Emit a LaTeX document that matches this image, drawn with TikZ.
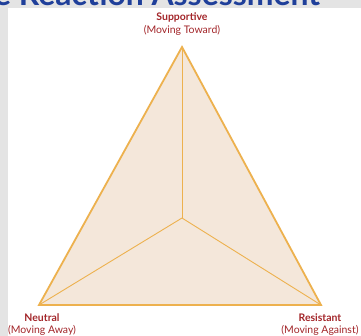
\documentclass[tikz,border=0pt]{standalone}
\usepackage{fontspec}
\setmainfont{Lato}
\usetikzlibrary{positioning}

\definecolor{slidegray}{HTML}{E4E4E4}
\definecolor{titleblue}{HTML}{1F3F9A}
\definecolor{edgeorange}{HTML}{EDB14E}
\definecolor{facebeige}{HTML}{F4E7DA}
\definecolor{labelred}{HTML}{A3262A}

\tikzset{
  reaction/.style={font=\bfseries\fontsize{10.5}{12}\selectfont, text=labelred, inner sep=0pt},
  movement/.style={font=\fontsize{10.5}{12}\selectfont, text=labelred, inner sep=0pt},
  outer edge/.style={draw=edgeorange, line width=1.8bp, line join=miter, fill=facebeige},
  inner edge/.style={draw=edgeorange, line width=0.9bp}
}

\begin{document}
\begin{tikzpicture}[x=1bp, y=-1bp]
  \useasboundingbox (0,0) rectangle (361,336);
  \fill[slidegray] (0,0) rectangle (361,336);
  \fill[white] (8,8) rectangle (361,336);

  % cropped title
  \begin{scope}
    \clip (0,0) rectangle (361,8);
    \node[anchor=base west, inner sep=0pt, text=titleblue,
          font=\bfseries\fontsize{32}{32}\selectfont] (title) at (-6,5) {e Reaction Assessment};
  \end{scope}

  \coordinate (top) at (182,47);
  \coordinate (left) at (39,305);
  \coordinate (right) at (321,305);
  \coordinate (centre) at (182,218);

  \draw[outer edge] (top) -- (right) -- (left) -- cycle;
  \foreach \v in {top,left,right}{
    \draw[inner edge] (centre) -- (\v);
  };

  \node[reaction] (supportive) at (182,17) {Supportive};
  \node[movement, below=3bp of supportive] (toward) {(Moving Toward)};

  \node[reaction] (neutral) at (42,318) {Neutral};
  \node[movement, below=3bp of neutral] (away) {(Moving Away)};

  \node[reaction] (resistant) at (320,318) {Resistant};
  \node[movement, below=3bp of resistant] (against) {(Moving Against)};
\end{tikzpicture}
\end{document}
